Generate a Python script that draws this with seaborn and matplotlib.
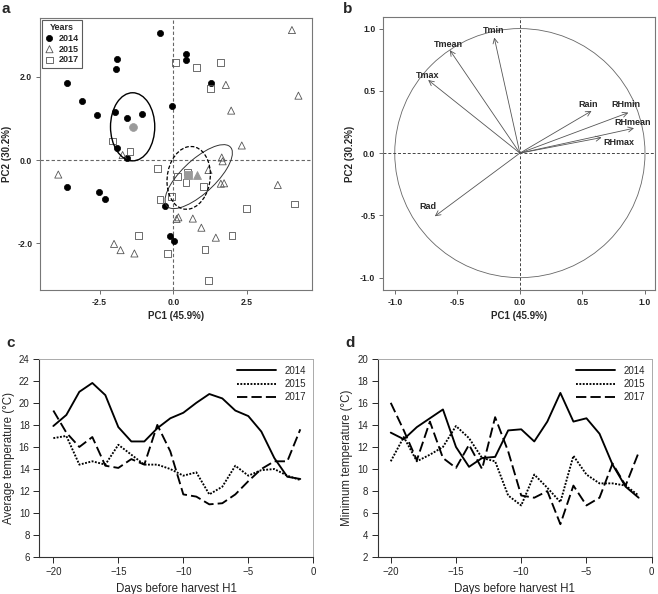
import numpy as np
import pandas as pd
import matplotlib
matplotlib.use("Agg")
import matplotlib.pyplot as plt
from matplotlib.patches import Ellipse, Circle
import seaborn as sns


# PANEL A - PCA SCORES

years = ["2014", "2015", "2017"]

pc1_2014 = [-0.45, 0.43, 0.43, -1.92, -1.96, -3.59, -3.09, -2.59, -1.98, -1.58, -1.06,
            -0.03, 1.27, -1.90, -1.58, -3.62, -2.51, -2.33, -0.28, -0.12, 0.03]
pc2_2014 = [3.05, 2.55, 2.41, 2.44, 2.18, 1.86, 1.41, 1.08, 1.16, 1.00, 1.10,
            1.30, 1.86, 0.28, 0.06, -0.65, -0.78, -0.95, -1.10, -1.82, -1.96]

pc1_2015 = [4.02, 4.24, 1.78, 1.96, 2.32, 1.64, 1.67, 1.19, 1.72, 1.61, 3.54,
            -3.90, -1.72, 0.17, 0.11, 0.66, 0.95, 1.44, -2.01, -1.79, -1.32]
pc2_2015 = [3.13, 1.55, 1.81, 1.19, 0.35, 0.06, -0.03, -0.24, -0.56, -0.57, -0.60,
            -0.35, 0.12, -1.38, -1.42, -1.41, -1.63, -1.87, -2.02, -2.17, -2.25]

pc1_2017 = [0.06, 0.79, 1.61, 1.27, -2.05, -1.47, -0.55, 0.14, 0.49, 0.43,
            1.01, -0.45, -0.06, 2.47, 4.12, -1.18, 1.99, 1.07, -0.19, 1.20]
pc2_2017 = [2.35, 2.22, 2.35, 1.72, 0.46, 0.21, -0.21, -0.40, -0.29, -0.55,
            -0.64, -0.96, -0.88, -1.17, -1.06, -1.82, -1.82, -2.15, -2.25, -2.90]

# year centroids
mean_pc1 = [-1.36, 0.81, 0.49]
mean_pc2 = [0.79, -0.36, -0.35]

# confidence ellipses
ell_cx = [-1.38, 0.86, 0.52]
ell_cy = [0.80, -0.40, -0.43]
ell_width = [1.50, 2.60, 1.57]
ell_height = [1.64, 0.91, 1.41]
ell_angle = [0.0, 30.7, 52.7]


# PANEL B - LOADINGS

variables = ["Tmin", "Tmean", "Tmax", "Rad", "Rain", "RHmin", "RHmean", "RHmax"]
load_pc1 = [-0.205, -0.56, -0.733, -0.68, 0.573, 0.867, 0.912, 0.653]
load_pc2 = [0.928, 0.827, 0.587, -0.507, 0.339, 0.325, 0.200, 0.125]


# PANELS C, D - TEMPERATURES

days = list(range(-20, 0))

avg_2014 = [17.9, 18.9, 21.0, 21.8, 20.7, 17.8, 16.5, 16.5, 17.7, 18.6,
            19.1, 20.0, 20.8, 20.4, 19.3, 18.8, 17.4, 15.0, 13.3, 13.1]
avg_2015 = [16.8, 17.0, 14.4, 14.7, 14.4, 16.2, 15.3, 14.4, 14.4, 14.0,
            13.4, 13.7, 11.7, 12.4, 14.3, 13.4, 13.9, 14.0, 13.4, 13.0]
avg_2017 = [19.3, 17.3, 16.0, 16.9, 14.3, 14.1, 14.9, 14.4, 18.0, 15.6,
            11.7, 11.5, 10.8, 10.9, 11.7, 12.9, 14.0, 14.7, 14.7, 17.6]

min_2014 = [13.3, 12.7, 13.8, 14.6, 15.4, 12.0, 10.2, 11.0, 11.1, 13.5,
            13.6, 12.5, 14.3, 16.9, 14.3, 14.6, 13.2, 10.4, 8.4, 7.4]
min_2015 = [10.7, 12.9, 10.7, 11.3, 12.0, 13.9, 12.8, 11.0, 10.7, 7.6,
            6.7, 9.5, 8.3, 7.0, 11.2, 9.5, 8.7, 8.7, 8.5, 7.6]
min_2017 = [16.0, 13.5, 10.8, 14.3, 11.0, 10.1, 12.2, 10.0, 14.7, 11.6,
            7.6, 7.4, 8.0, 5.0, 8.5, 6.7, 7.4, 10.5, 8.5, 11.5]


sns.set_style("ticks")
plt.rcParams["font.family"] = ["Liberation Sans", "DejaVu Sans"]

W, H = 658, 594
fig = plt.figure(figsize=(W / 100, H / 100), dpi=100)


def px_axes(left, top, right, bottom):
    return fig.add_axes([left / W, 1 - bottom / H, (right - left) / W, (bottom - top) / H])


ax_a = px_axes(40, 18, 312, 290)
ax_b = px_axes(383, 17, 655, 290)
ax_c = px_axes(39.3, 358.7, 313.3, 557.3)
ax_d = px_axes(377.7, 358.7, 651.7, 557.3)


# 1 PCA SCORE PLOT

scores = pd.DataFrame({
    "PC1": pc1_2014 + pc1_2015 + pc1_2017,
    "PC2": pc2_2014 + pc2_2015 + pc2_2017,
    "Year": ["2014"] * len(pc1_2014) + ["2015"] * len(pc1_2015) + ["2017"] * len(pc1_2017),
})

marker_style = {
    "2014": dict(marker="o", s=20, facecolor="black", edgecolor="black", linewidth=0.5),
    "2015": dict(marker="^", s=26, facecolor="none", edgecolor="#555555", linewidth=0.6),
    "2017": dict(marker="s", s=24, facecolor="none", edgecolor="#555555", linewidth=0.6),
}

for yr in years:
    sns.scatterplot(data=scores[scores["Year"] == yr], x="PC1", y="PC2",
                    ax=ax_a, label=yr, zorder=3, **marker_style[yr])

for i, yr in enumerate(years):
    st = dict(marker_style[yr])
    st.update(facecolor="#9a9a9a", edgecolor="#9a9a9a", s=32)
    sns.scatterplot(x=[mean_pc1[i]], y=[mean_pc2[i]], ax=ax_a, zorder=4,
                    legend=False, **st)

ell_styles = [
    dict(ec="black", lw=1.0, ls="-"),
    dict(ec="#333333", lw=0.7, ls="-"),
    dict(ec="black", lw=0.9, ls=(0, (3, 1.5))),
]
for i in range(3):
    ax_a.add_patch(Ellipse((ell_cx[i], ell_cy[i]), ell_width[i], ell_height[i],
                           angle=ell_angle[i], fill=False, zorder=5, **ell_styles[i]))

ax_a.axhline(0, color="#666666", lw=0.8, ls=(0, (3, 2)), zorder=1)
ax_a.axvline(0, color="#666666", lw=0.8, ls=(0, (3, 2)), zorder=1)

ax_a.set_xlim(-4.52, 4.70)
ax_a.set_ylim(-3.13, 3.42)
ax_a.set_xticks([-2.5, 0.0, 2.5])
ax_a.set_xticklabels(["-2.5", "0.0", "2.5"])
ax_a.set_yticks([-2.0, 0.0, 2.0])
ax_a.set_yticklabels(["-2.0", "0.0", "2.0"])
ax_a.set_xlabel("PC1 (45.9%)", fontsize=7, fontweight="bold", labelpad=3)
ax_a.set_ylabel("PC2 (30.2%)", fontsize=7, fontweight="bold", labelpad=4)

h, l = ax_a.get_legend_handles_labels()
leg = ax_a.legend(h[:3], l[:3], title="Years", loc="upper left", fontsize=6.5,
                  title_fontsize=6.5, frameon=True, fancybox=False, borderaxespad=0.2,
                  borderpad=0.35, labelspacing=0.2, handletextpad=0.5,
                  handlelength=1.0, edgecolor="#333333")
leg.get_frame().set_linewidth(0.8)
leg.get_title().set_fontweight("bold")
for t in leg.get_texts():
    t.set_fontweight("bold")


# 2 LOADINGS PLOT

ax_b.add_patch(Circle((0, 0), 1.0, fill=False, ec="#666666", lw=0.6))
ax_b.axhline(0, color="#444444", lw=0.7, ls=(0, (3, 2)))
ax_b.axvline(0, color="#444444", lw=0.7, ls=(0, (3, 2)))

label_offset = {
    "Tmin": (-0.7, 5.3), "Tmean": (-0.7, 4.3), "Tmax": (-0.7, 3.6),
    "Rad": (-5.3, 6.7), "Rain": (-2.2, 4.8), "RHmin": (-1.7, 6.0),
    "RHmean": (-1.0, 4.3), "RHmax": (12.8, -3.3),
}
for name, x, y in zip(variables, load_pc1, load_pc2):
    ax_b.annotate("", xy=(x, y), xytext=(0, 0),
                  arrowprops=dict(arrowstyle="->", color="#555555", lw=0.6,
                                  shrinkA=0, shrinkB=0, mutation_scale=9))
    ax_b.annotate(name, xy=(x, y), xytext=label_offset[name], textcoords="offset points",
                  ha="center", va="center", fontsize=6.5, fontweight="bold")

ax_b.set_xlim(-1.094, 1.08)
ax_b.set_ylim(-1.099, 1.093)
b_ticks = [-1.0, -0.5, 0.0, 0.5, 1.0]
b_labels = ["-1.0", "-0.5", "0.0", "0.5", "1.0"]
ax_b.set_xticks(b_ticks)
ax_b.set_xticklabels(b_labels)
ax_b.set_yticks(b_ticks)
ax_b.set_yticklabels(b_labels)
ax_b.set_xlabel("PC1 (45.9%)", fontsize=7, fontweight="bold", labelpad=3)
ax_b.set_ylabel("PC2 (30.2%)", fontsize=7, fontweight="bold", labelpad=4)

for ax in (ax_a, ax_b):
    for sp in ax.spines.values():
        sp.set_color("#777777")
        sp.set_linewidth(0.8)
    ax.tick_params(direction="out", length=3, width=0.6, color="#555555",
                   labelsize=6.2, pad=2.5)
    for t in ax.get_xticklabels() + ax.get_yticklabels():
        t.set_fontweight("bold")


# 3 TEMPERATURE LINE PLOTS

line_dashes = {"2014": "", "2015": (1, 0.8), "2017": (5.5, 2.2)}


def temp_frame(a, b, c):
    return pd.DataFrame({
        "Day": days * 3,
        "Temp": a + b + c,
        "Year": ["2014"] * len(days) + ["2015"] * len(days) + ["2017"] * len(days),
    })


avg_df = temp_frame(avg_2014, avg_2015, avg_2017)
min_df = temp_frame(min_2014, min_2015, min_2017)

for ax, df, ylab, ylim in [
    (ax_c, avg_df, "Average temperature (°C)", (6, 24)),
    (ax_d, min_df, "Minimum temperature (°C)", (2, 20)),
]:
    sns.lineplot(data=df, x="Day", y="Temp", style="Year", dashes=line_dashes,
                 color="black", linewidth=1.35, ax=ax)
    ax.set_ylim(*ylim)
    ax.set_yticks(np.arange(ylim[0], ylim[1] + 1, 2))
    ax.set_xticks([-20, -15, -10, -5, 0])
    ax.set_xlabel("Days before harvest H1", fontsize=8.3, labelpad=4)
    ax.set_ylabel(ylab, fontsize=8.3, labelpad=3)
    ax.tick_params(direction="out", length=4, width=0.7, labelsize=7, pad=3)
    for side in ["left", "bottom"]:
        ax.spines[side].set_color("#333333")
        ax.spines[side].set_linewidth(0.8)
    for side in ["top", "right"]:
        ax.spines[side].set_visible(True)
        ax.spines[side].set_color("#aaaaaa")
        ax.spines[side].set_linewidth(0.7)
    h, l = ax.get_legend_handles_labels()
    ax.legend(h, l, loc="upper right", frameon=False, fontsize=7, handlelength=4,
              handletextpad=0.9, labelspacing=0.35, borderaxespad=0.3)

ax_c.set_xlim(-21.08, 0)
ax_d.set_xlim(-21.0, 0)


# 4 PANEL LETTERS

for letter, x, y in [("a", 2, 13), ("b", 343, 13), ("c", 6, 347), ("d", 345, 347)]:
    fig.text(x / W, 1 - y / H, letter, fontsize=11, fontweight="bold",
             ha="left", va="baseline")

fig.savefig("out.png", dpi=100)
